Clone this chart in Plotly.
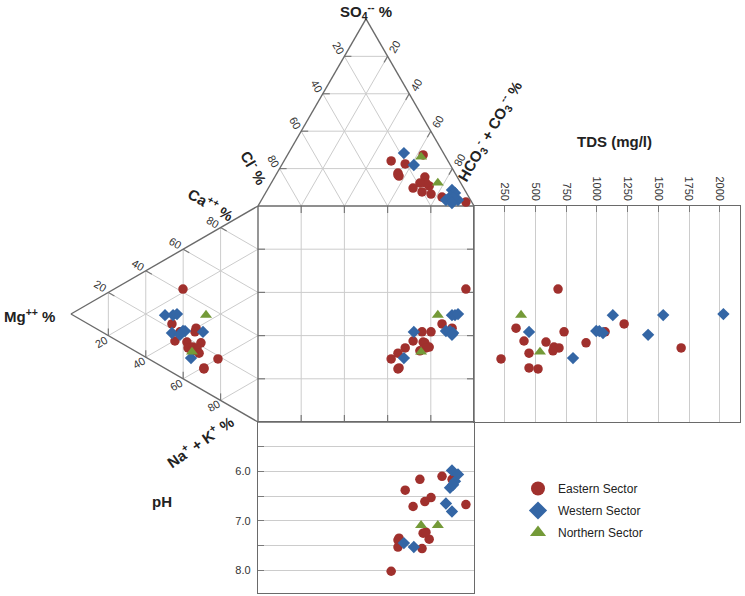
import math
import plotly.graph_objects as go

# ---------------- data (meq %, TDS mg/l, pH) ----------------
sectors = ["Eastern Sector", "Western Sector", "Northern Sector"]
sector_colors = ["#A0302D", "#3466A5", "#749A38"]
sector_symbols = ["circle", "diamond", "triangle-up"]
sector_sizes = [9.5, 9.5, 10.5]

sample_sector = [0] * 16 + [1] * 9 + [2] * 2
ca = [41.5, 22.4, 26.9, 24.9, 20.9, 15.3, 18.0, 21.4, 15.6, 17.3, 18.0, 16.1, 15.3, 18.5, 10.6, 10.1,
      24.6, 26.8, 28.3, 27.0, 22.1, 22.6, 18.2, 19.5, 11.7,
      35.6, 14.8]
mg = [40.1, 46.0, 33.1, 33.7, 41.7, 44.4, 38.0, 30.5, 37.4, 34.8, 32.6, 31.5, 35.3, 21.4, 28.9, 28.9,
      49.7, 45.4, 43.3, 29.4, 40.1, 39.0, 46.0, 41.7, 35.8,
      27.8, 35.3]
na_k = [18.4, 31.6, 40.0, 41.4, 37.4, 40.3, 44.0, 48.1, 47.0, 47.9, 49.4, 52.4, 49.4, 60.1, 60.5, 61.0,
        25.7, 27.8, 28.4, 43.6, 37.8, 38.4, 35.8, 38.8, 52.5,
        36.6, 49.9]
hco3 = [95.2, 82.8, 87.7, 72.2, 76.9, 67.0, 62.8, 69.5, 56.9, 73.9, 71.6, 56.0, 68.8, 49.6, 57.3, 56.5,
        85.5, 87.7, 91.0, 61.2, 85.4, 86.5, 88.2, 89.0, 53.4,
        77.1, 62.4]
so4 = [2.1, 4.8, 4.3, 7.5, 6.4, 9.6, 27.3, 15.5, 22.5, 10.7, 12.3, 17.6, 12.3, 24.1, 16.0, 16.6,
       8.6, 7.0, 3.2, 21.9, 3.2, 4.8, 4.3, 1.6, 28.3,
       12.3, 26.2]
cl = [2.7, 12.4, 8.0, 20.3, 16.7, 23.4, 9.9, 15.0, 20.6, 15.4, 16.1, 26.4, 18.9, 26.3, 26.7, 26.9,
      5.9, 5.3, 5.8, 16.9, 11.4, 8.7, 7.5, 9.4, 18.3,
      10.6, 11.4]
tds = [684, 1222, 342, 733, 1067, 407, 586, 912, 1686, 651, 692, 448, 643, 220, 448, 521,
       1130, 1540, 2030, 448, 995, 1020, 1050, 1417, 806,
       383, 537]
ph = [6.67, 6.10, 6.16, 7.56, 6.53, 6.71, 7.25, 6.61, 6.38, 7.37, 7.23, 7.53, 6.16, 8.02, 7.35, 7.39,
      5.98, 6.20, 6.06, 7.53, 6.65, 6.33, 6.27, 6.81, 7.45,
      7.09, 7.09]

tri_ticks = [20, 40, 60, 80]
tds_ticks = [250, 500, 750, 1000, 1250, 1500, 1750, 2000]
ph_ticks = [6.0, 7.0, 8.0]
ph_ticktext = ["6.0", "7.0", "8.0"]
ph_minor_step = 0.5

# ---------------- layout geometry (pixels) ----------------
W, HT = 745, 596
SQ_L, SQ_T, S = 258, 206, 216          # square left, top, side (px)
SQ_B = SQ_T + S
TDS_R = 740
PH_B = 593
TDS_MAX = 2165
PH_RANGE = [8.46, 5.0]
H = math.sqrt(3) / 2

GRID = "#cccccc"
EDGE = "#6a6a6a"
TICKC = "#7a7a7a"
TXT = "#222222"
FONT = "Liberation Sans, Arial, sans-serif"


def P(px, py):
    """pixel -> diagram units (square = unit square)"""
    return ((px - SQ_L) / S, (SQ_B - py) / S)


def lerp(a, b, t):
    return (a[0] + (b[0] - a[0]) * t, a[1] + (b[1] - a[1]) * t)


def seg_trace(segs, color, width):
    xs, ys = [], []
    for (x0, y0), (x1, y1) in segs:
        xs += [x0, x1, None]
        ys += [y0, y1, None]
    return go.Scatter(x=xs, y=ys, mode="lines", line=dict(color=color, width=width),
                      hoverinfo="skip", showlegend=False, xaxis="x", yaxis="y")


fr = [t / 100 for t in tri_ticks]

# triangle corners
T_CL, T_HC, T_SO = (0.0, 1.0), (1.0, 1.0), (0.5, 1.0 + H)
L_CA, L_NK, L_MG = (0.0, 1.0), (0.0, 0.0), (-H, 0.5)


def tri_grid(A, B, C):
    segs = []
    for f in fr:
        for Pp, Q, R in ((A, B, C), (B, C, A), (C, A, B)):
            segs.append((lerp(Q, Pp, f), lerp(R, Pp, f)))
    return segs


grid = tri_grid(T_CL, T_HC, T_SO) + tri_grid(L_CA, L_NK, L_MG)
for f in fr:
    grid.append(((f, 0), (f, 1)))
    grid.append(((0, f), (1, f)))

tl = 7 / S
ticks = []
for f in fr:
    ticks += [((0, f), (tl, f)), ((1, f), (1 - tl, f)), ((f, 1), (f, 1 - tl)), ((f, 0), (f, tl))]
    p = lerp(T_SO, T_CL, f)
    ticks.append((p, (p[0] + tl, p[1])))
    p = lerp(T_SO, T_HC, f)
    ticks.append((p, (p[0] - 0.5 * tl, p[1] - H * tl)))
    p = lerp(L_MG, L_NK, f)
    ticks.append((p, (p[0], p[1] + tl)))
    p = lerp(L_MG, L_CA, f)
    ticks.append((p, (p[0] + H * tl, p[1] - 0.5 * tl)))

edges = [((0, 0), (1, 0)), ((1, 0), (1, 1)), ((1, 1), (0, 1)), ((0, 1), (0, 0)),
         (T_CL, T_SO), (T_SO, T_HC),
         (L_CA, L_MG), (L_MG, L_NK)]

fig = go.Figure()
fig.add_trace(seg_trace(grid, GRID, 1))
fig.add_trace(seg_trace(ticks, TICKC, 1.2))
fig.add_trace(seg_trace(edges, EDGE, 1.4))

# ---------------- data points ----------------
for k, name in enumerate(sectors):
    idx = [i for i, s in enumerate(sample_sector) if s == k]
    ax_x, tri_y, lt_x, cat_y, v_tds, v_ph = [], [], [], [], [], []
    for i in idx:
        an = hco3[i] + so4[i] + cl[i]
        ct = ca[i] + mg[i] + na_k[i]
        ax_x.append((hco3[i] + so4[i] / 2) / an)
        tri_y.append(1 + so4[i] / an * H)
        lt_x.append(-mg[i] / ct * H)
        cat_y.append((ca[i] + mg[i] / 2) / ct)
        v_tds.append(tds[i])
        v_ph.append(ph[i])
    mk = dict(color=sector_colors[k], symbol=sector_symbols[k], size=sector_sizes[k], line=dict(width=0))
    common = dict(mode="markers", marker=mk, showlegend=False, legendgroup=name, name=name)
    fig.add_trace(go.Scatter(x=ax_x, y=tri_y, xaxis="x", yaxis="y", **common))
    fig.add_trace(go.Scatter(x=lt_x, y=cat_y, xaxis="x", yaxis="y", **common))
    fig.add_trace(go.Scatter(x=ax_x, y=cat_y, xaxis="x", yaxis="y", **common))
    fig.add_trace(go.Scatter(x=v_tds, y=cat_y, xaxis="x2", yaxis="y2", **common))
    fig.add_trace(go.Scatter(x=ax_x, y=v_ph, xaxis="x3", yaxis="y3", **common))

# legend entries
for k, name in enumerate(sectors):
    fig.add_trace(go.Scatter(x=[None], y=[None], mode="markers", name=name, legendgroup=name,
                             marker=dict(color=sector_colors[k], symbol=sector_symbols[k], size=14,
                                         line=dict(width=0)),
                             showlegend=True, xaxis="x", yaxis="y"))

# ---------------- annotations ----------------
ann = []


def add_text(px, py, text, size, angle=0, bold=False, color=TXT):
    x, y = P(px, py)
    ann.append(dict(x=x, y=y, xref="x", yref="y", text=("<b>%s</b>" % text) if bold else text,
                    showarrow=False, textangle=angle, xanchor="center", yanchor="middle",
                    font=dict(size=size, color=color, family=FONT)))


def side_labels(A, B, offset_px, angle):
    for t, f in zip(tri_ticks, fr):
        p = lerp(A, B, f)
        ann.append(dict(x=p[0] + offset_px[0] / S, y=p[1] - offset_px[1] / S, xref="x", yref="y",
                        text=str(t), showarrow=False, textangle=angle,
                        xanchor="center", yanchor="middle",
                        font=dict(size=11, color="#333333", family=FONT)))


side_labels(T_SO, T_CL, (-6, -8), 60)
side_labels(T_SO, T_HC, (7, -9), -60)
side_labels(L_MG, L_CA, (-8, -6), 30)
side_labels(L_MG, L_NK, (-7, 6), -30)

add_text(366, 11, "SO<sub>4</sub><sup>--</sup> %", 15, bold=True)
add_text(255, 167, "Cl<sup>-</sup> %", 15, angle=60, bold=True)
add_text(489, 131, "HCO<sub>3</sub><sup>-</sup> + CO<sub>3</sub><sup>--</sup> %", 15, angle=-60, bold=True)
add_text(614, 141, "TDS (mg/l)", 15, bold=True)
add_text(211, 203, "Ca<sup>++</sup> %", 15, angle=30, bold=True)
add_text(29, 315, "Mg<sup>++</sup> %", 15, bold=True)
add_text(199, 441, "Na<sup>+</sup> + K<sup>+</sup> %", 15, angle=-35, bold=True)
add_text(162, 501, "pH", 15, bold=True)

x0r, y1r = P(0, HT)
x1r, y0r = P(W, 0)

panel_line = dict(showline=True, mirror=True, linecolor=EDGE, linewidth=1.4, zeroline=False)

fig.update_layout(
    width=W, height=HT,
    margin=dict(l=0, r=0, t=0, b=0),
    paper_bgcolor="white", plot_bgcolor="rgba(0,0,0,0)",
    font=dict(family=FONT, color=TXT),
    showlegend=True,
    legend=dict(x=518 / W, y=(HT - 474) / HT, xanchor="left", yanchor="top",
                font=dict(size=12, color=TXT, family=FONT), bgcolor="rgba(0,0,0,0)",
                tracegroupgap=3, itemsizing="trace"),
    annotations=ann,
    xaxis=dict(domain=[0, 1], range=[x0r, x1r], visible=False, fixedrange=True),
    yaxis=dict(domain=[0, 1], range=[y1r, y0r], visible=False, fixedrange=True),
    xaxis2=dict(domain=[(SQ_L + S) / W, TDS_R / W], range=[0, TDS_MAX], anchor="y2", side="top",
                tickvals=tds_ticks, tickangle=90, ticks="inside", ticklen=6, tickcolor=TICKC,
                showgrid=True, gridcolor=GRID, gridwidth=1,
                tickfont=dict(size=11, color="#333333", family=FONT), **panel_line),
    yaxis2=dict(domain=[(HT - SQ_B) / HT, (HT - SQ_T) / HT], range=[0, 1], anchor="x2",
                showticklabels=False, showgrid=False, ticks="", **panel_line),
    xaxis3=dict(domain=[SQ_L / W, (SQ_L + S) / W], range=[0, 1], anchor="y3",
                showticklabels=False, showgrid=False, ticks="", **panel_line),
    yaxis3=dict(domain=[(HT - PH_B) / HT, (HT - SQ_B) / HT], range=PH_RANGE, anchor="x3",
                tickvals=ph_ticks, ticktext=ph_ticktext, ticks="inside", ticklen=6, tickcolor=TICKC,
                showgrid=True, gridcolor=GRID, gridwidth=1, ticklabelstandoff=4,
                minor=dict(dtick=ph_minor_step, tick0=5.5, ticks="inside", ticklen=6,
                           tickcolor=TICKC, showgrid=True, gridcolor=GRID),
                tickfont=dict(size=11, color="#333333", family=FONT), **panel_line),
)

fig.write_html("out.html")
